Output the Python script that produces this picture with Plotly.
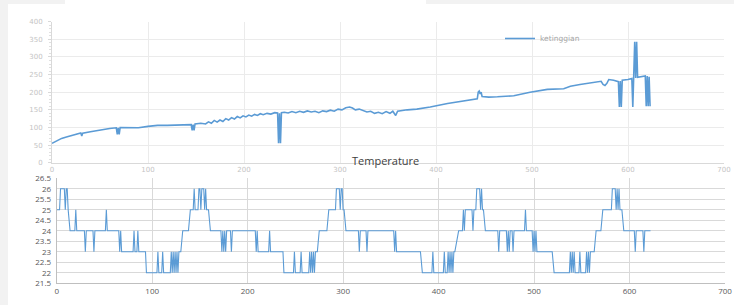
import plotly.graph_objects as go

# ---- data: ketinggian (top chart) ----
k_x = [0, 5, 10, 15, 20, 25, 30, 31, 32, 40, 50, 60, 67, 68, 69, 70, 71, 80, 90, 100,
       110, 120, 130, 140, 145, 146, 147, 148, 149, 155, 160, 163, 166, 169, 172, 175,
       178, 181, 184, 187, 190, 193, 196, 199, 202, 205, 208, 211, 214, 217, 220, 224,
       228, 232, 235, 236, 237, 238, 239, 242, 246, 250, 254, 258, 262, 266, 270, 274,
       278, 282, 286, 290, 294, 298, 302, 306, 310, 313, 316, 320, 324, 328, 332, 336,
       340, 344, 348, 352, 355, 358, 360, 364, 370, 380, 394, 412, 429, 443, 444, 445,
       446, 447, 448, 455, 464, 481, 498, 516, 533, 540, 550, 560, 568, 572, 574, 576,
       578, 580, 585, 590, 591, 592, 593, 594, 600, 604, 605, 606, 607, 608, 609, 610,
       612, 616, 618, 619, 620, 621, 622, 623]
k_y = [55, 63, 69, 73, 77, 80, 84, 76, 84, 88, 93, 97, 99, 80, 99, 80, 100, 100, 99, 103,
       106, 106, 107, 108, 108, 92, 108, 92, 110, 112, 110, 116, 112, 120, 115, 121,
       117, 125, 121, 128, 124, 131, 127, 133, 130, 135, 132, 137, 134, 139, 136, 140,
       138, 142, 141, 55, 140, 55, 142, 143, 141, 145, 142, 146, 143, 147, 144, 146,
       142, 147, 145, 149, 146, 152, 150, 156, 158, 155, 150, 152, 148, 144, 146, 140,
       143, 139, 145, 140, 146, 134, 146, 148, 150, 152, 158, 168, 174, 181, 200, 203,
       195, 200, 188, 186, 187, 190, 200, 208, 210, 217, 222, 227, 231, 231, 222, 219,
       225, 236, 234, 230, 158, 232, 158, 234, 236, 239, 158, 240, 343, 240, 343, 242,
       243, 247, 246, 160, 246, 160, 244, 160]

# ---- data: Temperature (bottom chart) ----
t_x = [0, 3, 4, 8, 9, 10, 11, 12, 14, 19, 20, 21, 29, 30, 31, 38, 39, 40, 51, 52, 53,
       65, 66, 67, 68, 80, 81, 82, 84, 85, 86, 93, 94, 105, 106, 107, 110, 111, 112,
       119, 120, 121, 122, 123, 124, 125, 126, 127, 128, 130, 132, 138, 140, 143, 144,
       145, 148, 149, 150, 151, 152, 154, 155, 156, 157, 159, 161, 172, 173, 174, 175,
       176, 177, 178, 182, 183, 184, 208, 209, 210, 211, 222, 223, 224, 237, 238, 248,
       249, 250, 255, 256, 257, 264, 265, 266, 267, 268, 269, 270, 271, 273, 275, 283,
       285, 292, 293, 296, 297, 298, 299, 300, 301, 303, 316, 317, 318, 324, 325, 326,
       353, 354, 355, 356, 381, 383, 393, 394, 395, 405, 406, 407, 409, 410, 411, 412,
       413, 414, 415, 416, 417, 421, 425, 426, 427, 428, 435, 436, 437, 439, 440, 443,
       444, 445, 446, 447, 449, 462, 463, 464, 471, 472, 473, 474, 475, 477, 478, 479,
       490, 491, 492, 498, 499, 500, 501, 502, 503, 519, 521, 537, 538, 539, 540, 541,
       542, 543, 547, 548, 549, 554, 555, 556, 557, 558, 559, 560, 563, 565, 570, 572,
       581, 582, 585, 586, 587, 588, 589, 590, 592, 594, 605, 606, 607, 614, 615, 616,
       622]
t_y = [25, 25, 26, 26, 25, 26, 26, 25, 24, 24, 25, 24, 24, 23, 24, 24, 23, 24, 24, 25, 24,
       24, 23, 24, 23, 23, 24, 23, 23, 24, 23, 23, 22, 22, 23, 22, 22, 23, 22,
       22, 23, 22, 23, 22, 23, 22, 23, 22, 23, 23, 24, 24, 25, 25, 26,
       25, 25, 26, 26, 25, 26, 26, 25, 26, 25, 25, 24, 24, 23, 24, 23,
       24, 23, 24, 24, 23, 24, 24, 23, 24, 23, 23, 24, 23, 23, 22, 22,
       23, 22, 22, 23, 22, 22, 23, 22, 23, 22, 23, 22, 23, 23, 24, 24,
       25, 25, 26, 26, 25, 26, 26, 25, 25, 24, 24, 23, 24, 24, 23, 24,
       24, 23, 24, 23, 23, 22, 22, 23, 22, 22, 23, 22, 22, 23, 22, 23,
       22, 23, 22, 23, 23, 24, 24, 25, 24, 25, 25, 24, 25, 25, 26, 26,
       25, 26, 25, 25, 24, 24, 23, 24, 24, 23, 24, 23, 24, 24, 23, 24,
       24, 25, 24, 24, 23, 24, 23, 24, 23, 23, 22, 22, 23, 22, 23, 22,
       23, 22, 22, 23, 22, 22, 23, 22, 23, 22, 23, 23, 23, 24, 24, 25,
       25, 26, 26, 25, 26, 25, 26, 25, 25, 24, 24, 23, 24, 24, 23, 24,
       24]

W, H = 734, 307
BLUE = "#5b9bd5"

def px(x):
    return x / W

def py(y):
    return 1 - y / H

fig = go.Figure()
fig.add_trace(go.Scatter(x=k_x, y=k_y, mode="lines", name="ketinggian",
                         line=dict(color=BLUE, width=1.6), xaxis="x", yaxis="y",
                         showlegend=True))
fig.add_trace(go.Scatter(x=t_x, y=t_y, mode="lines", name="Temperature",
                         line=dict(color=BLUE, width=1.1), xaxis="x2", yaxis="y2",
                         showlegend=False))

light = "#c4c4c4"
fig.update_layout(
    template="none",
    width=W, height=H,
    margin=dict(l=0, r=0, t=0, b=0, pad=0),
    paper_bgcolor="white", plot_bgcolor="white",
    xaxis=dict(domain=[px(52), px(724)], range=[0, 700], dtick=100, tick0=0,
               showgrid=True, gridcolor="#ebebeb", gridwidth=1, zeroline=False,
               showline=True, linecolor="#d9d9d9", ticks="", automargin=False,
               tickfont=dict(family="DejaVu Sans", size=7, color=light), fixedrange=True),
    yaxis=dict(domain=[py(162.7), py(21.7)], range=[0, 400], dtick=50, tick0=0,
               showgrid=True, gridcolor="#ebebeb", gridwidth=1, zeroline=False,
               showline=True, linecolor="#d9d9d9", ticks="outside", ticklen=3,
               tickcolor="#d9d9d9", automargin=False, ticklabelstandoff=4,
               minor=dict(dtick=10, ticks="outside", ticklen=2, tickcolor="#e0e0e0"),
               tickfont=dict(family="DejaVu Sans", size=7, color=light), fixedrange=True),
    xaxis2=dict(domain=[px(56.7), px(725)], range=[0, 700], dtick=100, tick0=0,
                showgrid=True, gridcolor="#d9d9d9", gridwidth=1, zeroline=False,
                showline=True, linecolor="#bfbfbf", ticks="", anchor="y2", automargin=False,
                tickfont=dict(family="Open Sans", size=8, color="#595959"), fixedrange=True),
    yaxis2=dict(domain=[py(283.3), py(178.3)], range=[21.5, 26.5], dtick=0.5, tick0=21.5,
                showgrid=True, gridcolor="#d9d9d9", gridwidth=1, zeroline=False,
                showline=True, linecolor="#bfbfbf", ticks="", anchor="x2", automargin=False,
                ticklabelstandoff=3,
                tickfont=dict(family="Open Sans", size=8, color="#595959"), fixedrange=True),
    legend=dict(x=px(500), y=py(24), xanchor="left", yanchor="top",
                bgcolor="rgba(0,0,0,0)", font=dict(family="DejaVu Sans", size=7.5, color="#a6a6a6"),
                itemwidth=30, tracegroupgap=0),
    showlegend=True,
)

# page background strips
for x0, x1, y0, y1 in [(0, 8, 0, 305), (0, 65, 0, 4), (426, 734, 0, 4)]:
    fig.add_shape(type="rect", xref="paper", yref="paper",
                  x0=px(x0), x1=px(x1), y0=py(y1), y1=py(y0),
                  fillcolor="#f2f2f2", line=dict(width=0), layer="below")

fig.add_annotation(text="Temperature", xref="paper", yref="paper",
                   x=px(385.5), y=py(160), showarrow=False,
                   font=dict(family="Open Sans", size=11, color="#404040"))

fig.write_html("out.html", config={"displayModeBar": False},
               post_script="document.body.style.margin='0';document.body.style.overflow='hidden';")
